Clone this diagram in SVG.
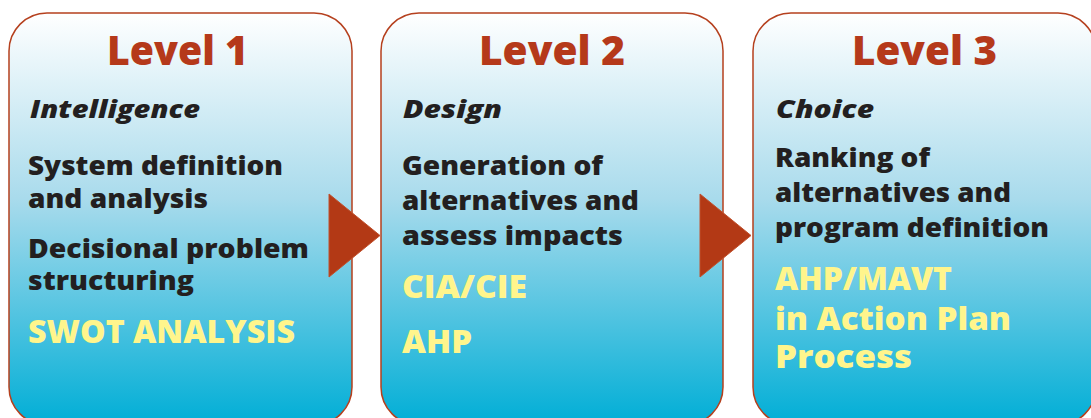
<svg xmlns="http://www.w3.org/2000/svg" width="1091" height="418" viewBox="0 0 1091 418">
<defs>
<linearGradient id="bg" x1="0" y1="0" x2="0" y2="1">
<stop offset="0" stop-color="#ffffff"/>
<stop offset="0.45" stop-color="#a9dbec"/>
<stop offset="1" stop-color="#00aed6"/>
</linearGradient>
<style>
.box{fill:url(#bg);stroke:#b5401e;stroke-width:1.5}
.arrow{fill:#b33915;stroke:#c0502c;stroke-width:1}
text{font-family:"Open Sans","Liberation Sans",sans-serif;font-weight:800}
.title{font-size:41px;fill:#b5391a}
.sub{font-style:italic;font-size:25.5px;fill:#231f20}
.body{font-size:26px;fill:#231f20}
.hl{font-size:31px;fill:#fff58c}
</style>
</defs>
<g id="level1">
<rect class="box" x="9" y="13" width="343" height="412" rx="38"/>
<text class="title" x="107" y="65" textLength="141" lengthAdjust="spacingAndGlyphs">Level 1</text>
<text class="sub" x="30" y="118" textLength="170" lengthAdjust="spacingAndGlyphs">Intelligence</text>
<text class="body" x="28" y="175" textLength="255" lengthAdjust="spacingAndGlyphs">System definition</text>
<text class="body" x="28" y="208" textLength="180" lengthAdjust="spacingAndGlyphs">and analysis</text>
<text class="body" x="28" y="258" textLength="281" lengthAdjust="spacingAndGlyphs">Decisional problem</text>
<text class="body" x="28" y="290" textLength="166" lengthAdjust="spacingAndGlyphs">structuring</text>
<text class="hl" x="28" y="343" textLength="267" lengthAdjust="spacingAndGlyphs">SWOT ANALYSIS</text>
</g>
<g id="level2">
<rect class="box" x="381" y="13" width="342" height="412" rx="38"/>
<text class="title" x="479" y="65" textLength="146" lengthAdjust="spacingAndGlyphs">Level 2</text>
<text class="sub" x="403" y="118" textLength="99" lengthAdjust="spacingAndGlyphs">Design</text>
<text class="body" x="402" y="175" textLength="201" lengthAdjust="spacingAndGlyphs">Generation of</text>
<text class="body" x="402" y="210" textLength="237" lengthAdjust="spacingAndGlyphs">alternatives and</text>
<text class="body" x="402" y="245" textLength="221" lengthAdjust="spacingAndGlyphs">assess impacts</text>
<text class="hl" x="402" y="298" textLength="125" lengthAdjust="spacingAndGlyphs">CIA/CIE</text>
<text class="hl" x="402" y="353" textLength="70" lengthAdjust="spacingAndGlyphs">AHP</text>
</g>
<g id="level3">
<rect class="box" x="753" y="13" width="343" height="412" rx="38"/>
<text class="title" x="852" y="65" textLength="145" lengthAdjust="spacingAndGlyphs">Level 3</text>
<text class="sub" x="776" y="118" textLength="98" lengthAdjust="spacingAndGlyphs">Choice</text>
<text class="body" x="775" y="167" textLength="155" lengthAdjust="spacingAndGlyphs">Ranking of</text>
<text class="body" x="775" y="202" textLength="236" lengthAdjust="spacingAndGlyphs">alternatives and</text>
<text class="body" x="775" y="237" textLength="274" lengthAdjust="spacingAndGlyphs">program definition</text>
<text class="hl" x="775" y="290" textLength="177" lengthAdjust="spacingAndGlyphs">AHP/MAVT</text>
<text class="hl" x="775" y="330" textLength="236" lengthAdjust="spacingAndGlyphs">in Action Plan</text>
<text class="hl" x="775" y="368" textLength="137" lengthAdjust="spacingAndGlyphs">Process</text>
</g>
<g id="connectors">
<polygon class="arrow" points="329,194 380,235.5 329,277"/>
<polygon class="arrow" points="700,194 751,235.5 700,277"/>
</g>
</svg>
